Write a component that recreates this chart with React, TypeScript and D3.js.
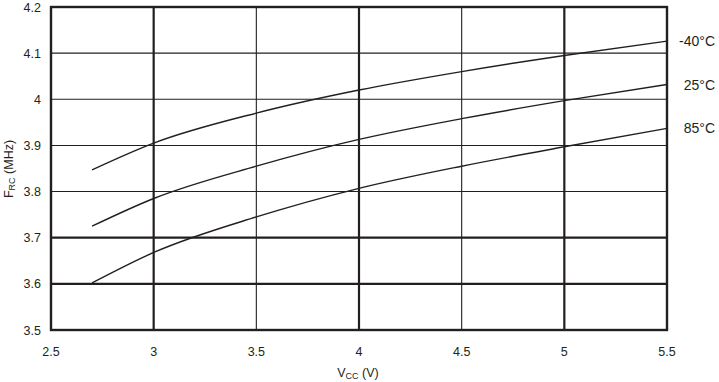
import React from "react";
import * as d3 from "d3";

const vcc = [2.7, 3, 3.5, 4, 4.5, 5, 5.5];
const tMinus40 = [3.847, 3.905, 3.970, 4.020, 4.060, 4.095, 4.126];
const t25 = [3.725, 3.785, 3.855, 3.913, 3.958, 3.997, 4.032];
const t85 = [3.602, 3.668, 3.745, 3.807, 3.855, 3.897, 3.937];
const seriesLabels = ["-40°C", "25°C", "85°C"];
const xTicks = [2.5, 3, 3.5, 4, 4.5, 5, 5.5];
const yTicks = [3.5, 3.6, 3.7, 3.8, 3.9, 4, 4.1, 4.2];
const xMajor = [3, 4, 5];
const yMajor = [3.6, 3.7];

const W = 719, H = 382;
const m = { left: 51, right: 667, top: 7, bottom: 330 };
const ink = "#231f20";
const font = "Liberation Sans, Arial, sans-serif";

export default function App() {
  const x = d3.scaleLinear().domain([2.5, 5.5]).range([m.left, m.right]);
  const y = d3.scaleLinear().domain([3.5, 4.2]).range([m.bottom, m.top]);
  const line = d3.line<number>().x((_, i) => x(vcc[i])).y((d) => y(d)).curve(d3.curveMonotoneX);
  const series = [tMinus40, t25, t85];
  return (
    <svg width={W} height={H} style={{ position: "absolute", left: 0, top: 0 }}>
      <rect width={W} height={H} fill="#fff" />
      {xTicks.slice(1, -1).map((t) => (
        <line key={"vx" + t} x1={x(t)} x2={x(t)} y1={m.top} y2={m.bottom} stroke={ink}
          strokeWidth={xMajor.includes(t) ? 2.2 : 1.1} />
      ))}
      {yTicks.slice(1, -1).map((t) => (
        <line key={"hy" + t} x1={m.left} x2={m.right} y1={y(t)} y2={y(t)} stroke={ink}
          strokeWidth={yMajor.includes(t) ? 2.2 : 1.1} />
      ))}
      <rect x={m.left} y={m.top} width={m.right - m.left} height={m.bottom - m.top} fill="none" stroke={ink} strokeWidth={2.4} />
      {series.map((s, i) => (
        <path key={i} d={line(s) || ""} fill="none" stroke={ink} strokeWidth={1.4} />
      ))}
      {series.map((s, i) => (
        <text key={"l" + i} x={W - 4} y={y(s[s.length - 1]) + 5} textAnchor="end" fontFamily={font} fontSize={14} fill={ink}>
          {seriesLabels[i]}
        </text>
      ))}
      {yTicks.map((t) => (
        <text key={"yt" + t} x={41} y={y(t) + 4.5} textAnchor="end" fontFamily={font} fontSize={12.5} fill={ink}>
          {String(t)}
        </text>
      ))}
      {xTicks.map((t) => (
        <text key={"xt" + t} x={x(t)} y={356} textAnchor="middle" fontFamily={font} fontSize={12.5} fill={ink}>
          {String(t)}
        </text>
      ))}
      <text x={358} y={377} textAnchor="middle" fontFamily={font} fontSize={12.5} fill={ink}>
        V<tspan fontSize={9} dy={1.5}>CC</tspan><tspan dy={-1.5}> (V)</tspan>
      </text>
      <text transform={`translate(13,169) rotate(-90)`} textAnchor="middle" fontFamily={font} fontSize={12.5} fill={ink}>
        F<tspan fontSize={9} dy={1.5}>RC</tspan><tspan dy={-1.5}> (MHz)</tspan>
      </text>
    </svg>
  );
}
